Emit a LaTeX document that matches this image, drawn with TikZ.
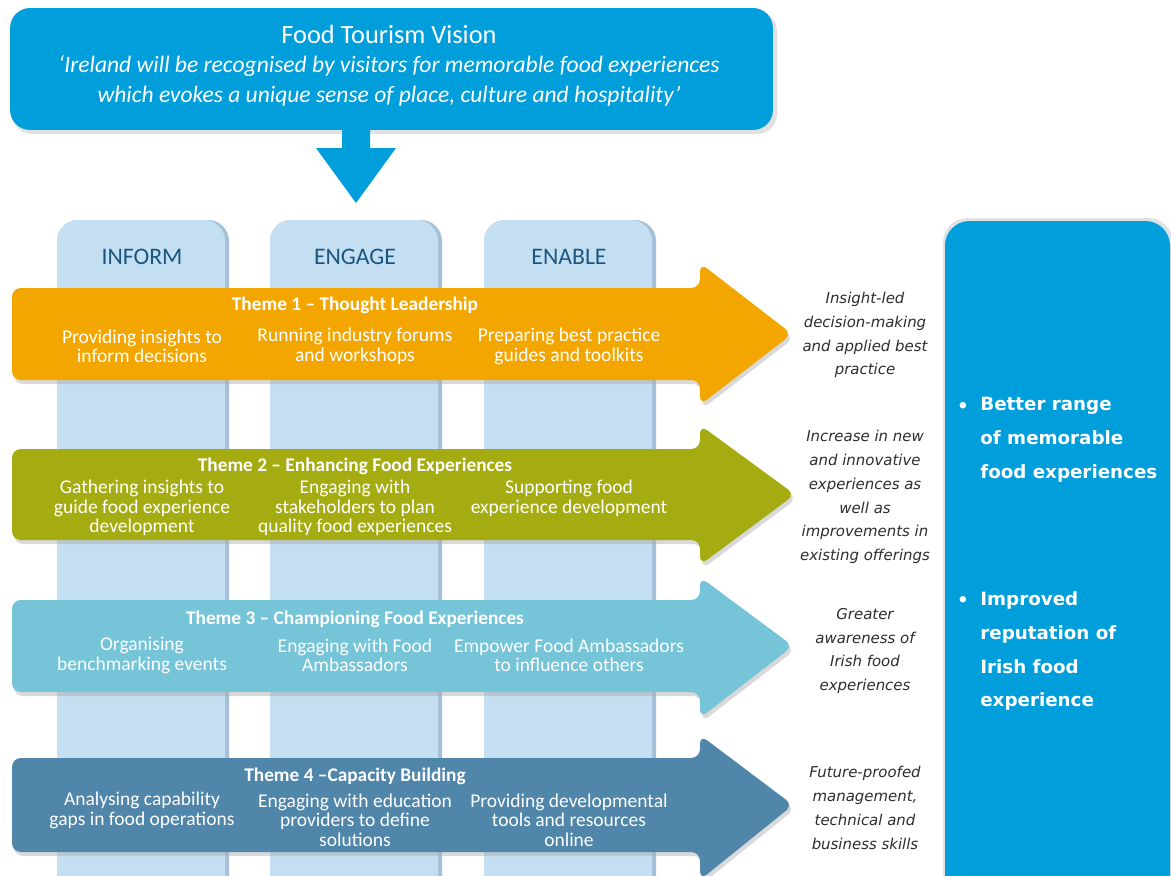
\documentclass[tikz,border=0pt]{standalone}
\usepackage{fontspec}
\setmainfont{Carlito}
\newfontfamily\dvs{DejaVu Sans}
\definecolor{vblue}{RGB}{0,158,219}
\definecolor{colblue}{RGB}{197,223,242}
\definecolor{colshade}{RGB}{165,192,216}
\definecolor{coltext}{RGB}{26,86,128}
\definecolor{thone}{RGB}{244,166,0}
\definecolor{thtwo}{RGB}{165,172,18}
\definecolor{ththree}{RGB}{118,196,216}
\definecolor{thfour}{RGB}{80,134,170}
\definecolor{outtext}{RGB}{45,45,45}
\definecolor{shadegray}{RGB}{170,170,170}
\tikzset{
 collab/.style={font=\fontsize{13.5}{15}\selectfont, text=coltext, inner sep=0pt},
 themehead/.style={font=\bfseries\fontsize{11}{12}\selectfont, text=white, inner sep=0pt},
 themetext/.style={font=\fontsize{11.1}{11.1}\selectfont, text=white, align=center, inner sep=0pt},
 outcome/.style={font=\dvs\itshape\fontsize{8.5}{13.6}\selectfont, text=outtext, align=center, inner sep=0pt},
 result/.style={font=\dvs\bfseries\fontsize{10.4}{19.3}\selectfont, text=white, align=left, inner sep=0pt, anchor=north west},
 bul/.style={font=\dvs\bfseries\fontsize{10.4}{12}\selectfont, text=white, inner sep=0pt},
 visiontitle/.style={font=\fontsize{15}{17}\selectfont, text=white, inner sep=0pt, anchor=base},
 visionline/.style={font=\itshape\fontsize{13.4}{17}\selectfont, text=white, inner sep=0pt, anchor=base},
 visionbox/.style={fill=vblue, rounded corners=0.4cm, minimum width=15.26cm, minimum height=2.44cm, inner sep=0pt},
}
\begin{document}
\begin{tikzpicture}[x=0.02cm,y=-0.02cm]
\useasboundingbox (0,0) rectangle (1171,876);
\clip (0,0) rectangle (1171,876);

% columns
\foreach \cx/\lab/\nm in {142/INFORM/inform,355/ENGAGE/engage,569/ENABLE/enable}{
  \fill[colshade, rounded corners=12] (\cx-85,900) -- (\cx-85,220) -- (\cx+87,220) -- (\cx+87,900);
  \fill[colblue, rounded corners=12] (\cx-85,900) -- (\cx-85,220) -- (\cx+83,220) -- (\cx+83,900);
  \node[collab] (\nm) at (\cx,257) {\lab};
}

% vision box
\fill[shadegray, opacity=0.35, rounded corners=0.4cm] (12,11) rectangle (777,134);
\node[visionbox] (vision) at (391.5,69) {};
\fill[vblue] (342,125) -- (370,125) -- (370,148) -- (396,148) -- (356,203) -- (316,148) -- (342,148) -- cycle;
\node[visiontitle] (vtitle) at (389,43) {Food Tourism Vision};
\node[visionline] (vl1) at (389,72) {‘Ireland will be recognised by visitors for memorable food experiences};
\node[visionline] (vl2) at (389,102) {which evokes a unique sense of place, culture and hospitality’};

% theme arrows
\foreach \c/\bt/\bb/\ht/\hb/\tip in {thone/288/380/263/405/792, thtwo/449/540/425/565/795, ththree/600/692/577/718/793, thfour/758/852/735/880/793}{
  \pgfmathsetmacro\mid{(\bt+\bb)/2}
  \fill[shadegray, opacity=0.45, rounded corners=5, shift={(2,4)}] (12,\bt) -- (700,\bt) -- (700,\ht) -- (\tip,\mid) -- (700,\hb) -- (700,\bb) -- (12,\bb) -- cycle;
  \fill[\c, rounded corners=5] (12,\bt) -- (700,\bt) -- (700,\ht) -- (\tip,\mid) -- (700,\hb) -- (700,\bb) -- (12,\bb) -- cycle;
}

% theme 1
\node[themehead] (t1h) at (355,305) {Theme 1 – Thought Leadership};
\node[themetext] (t1a) at (142,346.5) {Providing insights to\\inform decisions};
\node[themetext] (t1b) at (355,346.5) {Running industry forums\\and workshops};
\node[themetext] (t1c) at (569,346.5) {Preparing best practice\\guides and toolkits};
% theme 2
\node[themehead] (t2h) at (355,466) {Theme 2 – Enhancing Food Experiences};
\node[themetext] (t2a) at (142,508) {Gathering insights to\\guide food experience\\development};
\node[themetext] (t2b) at (355,508) {Engaging with\\stakeholders to plan\\quality food experiences};
\node[themetext] (t2c) at (569,498.5) {Supporting food\\experience development};
% theme 3
\node[themehead] (t3h) at (355,619) {Theme 3 – Championing Food Experiences};
\node[themetext] (t3a) at (142,655.5) {Organising\\benchmarking events};
\node[themetext] (t3b) at (355,655.5) {Engaging with Food\\Ambassadors};
\node[themetext] (t3c) at (569,655.5) {Empower Food Ambassadors\\to influence others};
% theme 4
\node[themehead] (t4h) at (355,776) {Theme 4 –Capacity Building};
\node[themetext] (t4a) at (142,810.5) {Analysing capability\\gaps in food operations};
\node[themetext] (t4b) at (355,820) {Engaging with education\\providers to define\\solutions};
\node[themetext] (t4c) at (569,820) {Providing developmental\\tools and resources\\online};

% outcomes
\node[outcome] (o1) at (865,335) {Insight-led\\decision-making\\and applied best\\practice};
\node[outcome] (o2) at (865,497) {Increase in new\\and innovative\\experiences as\\well as\\improvements in\\existing offerings};
\node[outcome] (o3) at (865,651) {Greater\\awareness of\\Irish food\\experiences};
\node[outcome] (o4) at (865,808) {Future-proofed\\management,\\technical and\\business skills};

% result box
\fill[shadegray, opacity=0.35, rounded corners=14] (943,900) -- (943,218) -- (1173,218) -- (1173,900);
\fill[vblue, rounded corners=14] (945,900) -- (945,221) -- (1170,221) -- (1170,900);
\node[bul] (b1) at (963,407) {•};
\node[result] (r1) at (980,397) {Better range\\of memorable\\food experiences};
\node[bul] (b2) at (963,601) {•};
\node[result] (r2) at (980,591) {Improved\\reputation of\\Irish food\\experience};
\end{tikzpicture}
\end{document}
